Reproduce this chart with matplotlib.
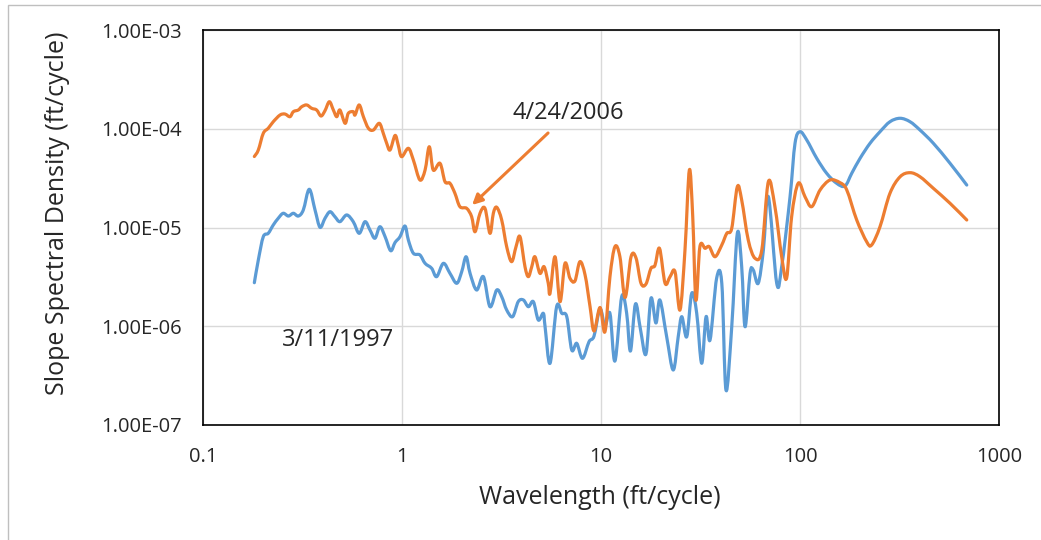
import numpy as np
import matplotlib
matplotlib.use("Agg")
import matplotlib.pyplot as plt
from matplotlib.patches import Rectangle, PathPatch
from matplotlib.path import Path

plt.rcParams["font.family"] = ["Open Sans", "DejaVu Sans"]

# values, kept as log10 (wavelength ft/cycle, density)
log_wl_2006 = [-0.742, -0.722, -0.697, -0.672, -0.647, -0.613, -0.588, -0.563, -0.546, -0.521,
               -0.504, -0.479, -0.454, -0.429, -0.407, -0.387, -0.365, -0.345, -0.328, -0.312,
               -0.286, -0.270, -0.245, -0.236, -0.215, -0.194, -0.169, -0.144, -0.114, -0.094,
               -0.077, -0.060, -0.035, -0.019, -0.002, 0.032, 0.057, 0.090, 0.116, 0.137,
               0.157, 0.191, 0.216, 0.241, 0.266, 0.291, 0.325, 0.350, 0.367, 0.392,
               0.417, 0.442, 0.459, 0.476, 0.501, 0.526, 0.551, 0.573, 0.593, 0.618,
               0.635, 0.652, 0.668, 0.693, 0.714, 0.735, 0.744, 0.769, 0.794, 0.819,
               0.844, 0.869, 0.894, 0.920, 0.945, 0.965, 0.995, 1.020, 1.045, 1.070,
               1.095, 1.121, 1.151, 1.176, 1.201, 1.226, 1.251, 1.271, 1.294, 1.322,
               1.347, 1.372, 1.397, 1.422, 1.444, 1.461, 1.477, 1.497, 1.523, 1.544,
               1.573, 1.607, 1.632, 1.657, 1.685, 1.707, 1.740, 1.774, 1.808, 1.841,
               1.874, 1.908, 1.933, 1.958, 1.991, 2.025, 2.059, 2.101, 2.151, 2.201,
               2.235, 2.285, 2.335, 2.360, 2.402, 2.452, 2.503, 2.553, 2.603, 2.670,
               2.754, 2.838]
log_sd_2006 = [-4.281, -4.215, -4.046, -3.995, -3.929, -3.861, -3.851, -3.878, -3.827, -3.810,
               -3.777, -3.759, -3.793, -3.810, -3.871, -3.817, -3.726, -3.810, -3.878, -3.810,
               -3.945, -3.844, -3.827, -3.861, -3.759, -3.878, -3.995, -4.013, -3.945, -4.046,
               -4.147, -4.215, -4.068, -4.165, -4.283, -4.198, -4.316, -4.519, -4.418, -4.182,
               -4.418, -4.350, -4.536, -4.552, -4.654, -4.789, -4.806, -4.891, -5.043, -4.856,
               -4.806, -5.059, -4.856, -4.795, -4.924, -5.194, -5.346, -5.194, -5.093, -5.397,
               -5.498, -5.397, -5.296, -5.464, -5.397, -5.565, -5.666, -5.296, -5.751, -5.363,
               -5.514, -5.542, -5.346, -5.481, -5.802, -6.048, -5.810, -6.055, -5.498, -5.194,
               -5.296, -5.709, -5.296, -5.309, -5.565, -5.572, -5.413, -5.385, -5.211, -5.565,
               -5.498, -5.448, -5.835, -5.228, -4.418, -4.891, -5.734, -5.194, -5.211, -5.194,
               -5.296, -5.177, -5.059, -5.008, -4.587, -4.722, -5.127, -5.312, -5.228, -4.536,
               -4.789, -5.296, -5.511, -4.891, -4.552, -4.688, -4.789, -4.620, -4.519, -4.546,
               -4.620, -4.924, -5.144, -5.177, -4.992, -4.654, -4.486, -4.445, -4.486, -4.603,
               -4.755, -4.924]

log_wl_1997 = [-0.742, -0.722, -0.697, -0.672, -0.647, -0.622, -0.597, -0.571, -0.546, -0.521,
               -0.496, -0.466, -0.437, -0.412, -0.387, -0.362, -0.337, -0.312, -0.278, -0.245,
               -0.215, -0.186, -0.161, -0.136, -0.111, -0.085, -0.057, -0.035, -0.010, 0.015,
               0.032, 0.057, 0.090, 0.116, 0.149, 0.174, 0.208, 0.241, 0.275, 0.300,
               0.322, 0.342, 0.375, 0.409, 0.442, 0.476, 0.501, 0.526, 0.556, 0.584,
               0.610, 0.635, 0.660, 0.685, 0.710, 0.719, 0.744, 0.777, 0.803, 0.828,
               0.853, 0.878, 0.907, 0.940, 0.965, 0.995, 1.020, 1.045, 1.070, 1.104,
               1.129, 1.148, 1.173, 1.198, 1.226, 1.251, 1.276, 1.296, 1.330, 1.363,
               1.388, 1.406, 1.431, 1.456, 1.481, 1.506, 1.528, 1.548, 1.581, 1.607,
               1.628, 1.657, 1.685, 1.707, 1.724, 1.749, 1.765, 1.790, 1.816, 1.841,
               1.883, 1.908, 1.950, 1.975, 2.000, 2.034, 2.084, 2.134, 2.184, 2.226,
               2.260, 2.302, 2.352, 2.402, 2.452, 2.503, 2.553, 2.603, 2.670, 2.754,
               2.838]
log_sd_1997 = [-5.559, -5.329, -5.093, -5.059, -4.975, -4.907, -4.856, -4.884, -4.856, -4.884,
               -4.823, -4.613, -4.823, -4.998, -4.907, -4.840, -4.891, -4.941, -4.873, -4.941,
               -5.059, -4.941, -5.025, -5.109, -4.992, -5.093, -5.235, -5.152, -5.093, -4.985,
               -5.127, -5.261, -5.278, -5.363, -5.413, -5.498, -5.363, -5.464, -5.565, -5.448,
               -5.296, -5.464, -5.633, -5.498, -5.802, -5.633, -5.701, -5.835, -5.903, -5.751,
               -5.734, -5.802, -5.751, -5.937, -5.869, -6.005, -6.375, -5.802, -5.869, -5.903,
               -6.241, -6.173, -6.325, -6.156, -6.099, -5.825, -5.997, -5.869, -6.352, -5.701,
               -5.869, -6.251, -5.775, -6.028, -6.281, -5.717, -5.967, -5.734, -6.106, -6.443,
               -6.106, -5.903, -6.106, -5.666, -5.869, -6.375, -5.903, -6.139, -5.514, -5.565,
               -6.646, -6.005, -5.059, -5.397, -6.005, -5.464, -5.430, -5.565, -5.228, -4.688,
               -5.565, -5.397, -4.688, -4.147, -4.030, -4.114, -4.299, -4.451, -4.552, -4.580,
               -4.451, -4.299, -4.147, -4.030, -3.929, -3.894, -3.929, -4.013, -4.147, -4.350,
               -4.570]

x_ticks = [0.1, 1, 10, 100, 1000]
x_labels = ["0.1", "1", "10", "100", "1000"]
y_ticks = [1e-7, 1e-6, 1e-5, 1e-4, 1e-3]
y_labels = ["1.00E-07", "1.00E-06", "1.00E-05", "1.00E-04", "1.00E-03"]

blue = "#5B9BD5"
orange = "#ED7D31"
txt = "#262626"


def smooth_path(lx, ly):
    # excel-style smoothed line: bezier through each point (built in log space)
    p = np.column_stack([lx, ly])
    n = len(p)
    verts = [p[0]]
    codes = [Path.MOVETO]
    for i in range(n - 1):
        prev = p[i - 1] if i > 0 else p[i]
        nxt = p[i + 2] if i + 2 < n else p[i + 1]
        c1 = p[i] + (p[i + 1] - prev) / 6.0
        c2 = p[i + 1] - (nxt - p[i]) / 6.0
        verts += [c1, c2, p[i + 1]]
        codes += [Path.CURVE4] * 3
    return Path(10 ** np.array(verts), codes)


fig = plt.figure(figsize=(10.41, 5.40), dpi=100)
ax = fig.add_axes([203 / 1041, 1 - 425 / 540, 796 / 1041, 395 / 540])

for lx, ly, c in [(log_wl_1997, log_sd_1997, blue), (log_wl_2006, log_sd_2006, orange)]:
    ax.add_patch(PathPatch(smooth_path(lx, ly), facecolor="none", edgecolor=c, lw=2.3,
                           joinstyle="round", capstyle="round", zorder=3))

ax.set_xscale("log")
ax.set_yscale("log")
ax.set_xlim(0.1, 1000)
ax.set_ylim(1e-7, 1e-3)
ax.set_xticks(x_ticks)
ax.set_xticklabels(x_labels)
ax.set_yticks(y_ticks)
ax.set_yticklabels(y_labels)
ax.minorticks_off()
ax.tick_params(length=0, labelsize=14.5, colors=txt)
ax.tick_params(axis="x", pad=16)
ax.tick_params(axis="y", pad=15)
ax.grid(True, color="#d9d9d9", lw=1)
ax.set_axisbelow(True)
for s in ax.spines.values():
    s.set_color("black")
    s.set_linewidth(1.2)

fig.text(600 / 1041, 1 - 497 / 540, "Wavelength (ft/cycle)", fontsize=18, color=txt,
         ha="center", va="center")
fig.text(58 / 1041, 1 - 213 / 540, "Slope Spectral Density (ft/cycle)", fontsize=18, color=txt,
         ha="center", va="center", rotation=90)

ax.annotate("", xy=(2.25, 1.69e-5), xytext=(5.42, 9.06e-5),
            arrowprops=dict(arrowstyle="-|>", color=orange, lw=2.2, mutation_scale=15,
                            shrinkA=0, shrinkB=0), zorder=4)
ax.text(6.82, 1.44e-4, "4/24/2006", fontsize=17, ha="center", va="center", color=txt)
ax.text(0.477, 7.26e-7, "3/11/1997", fontsize=17, ha="center", va="center", color=txt)

fig.patches.append(Rectangle((8 / 1041, -0.1), 1.2, 1.1 - 5 / 540, transform=fig.transFigure,
                             fill=False, edgecolor="#bfbfbf", lw=1))

fig.savefig("out.png", dpi=100)
